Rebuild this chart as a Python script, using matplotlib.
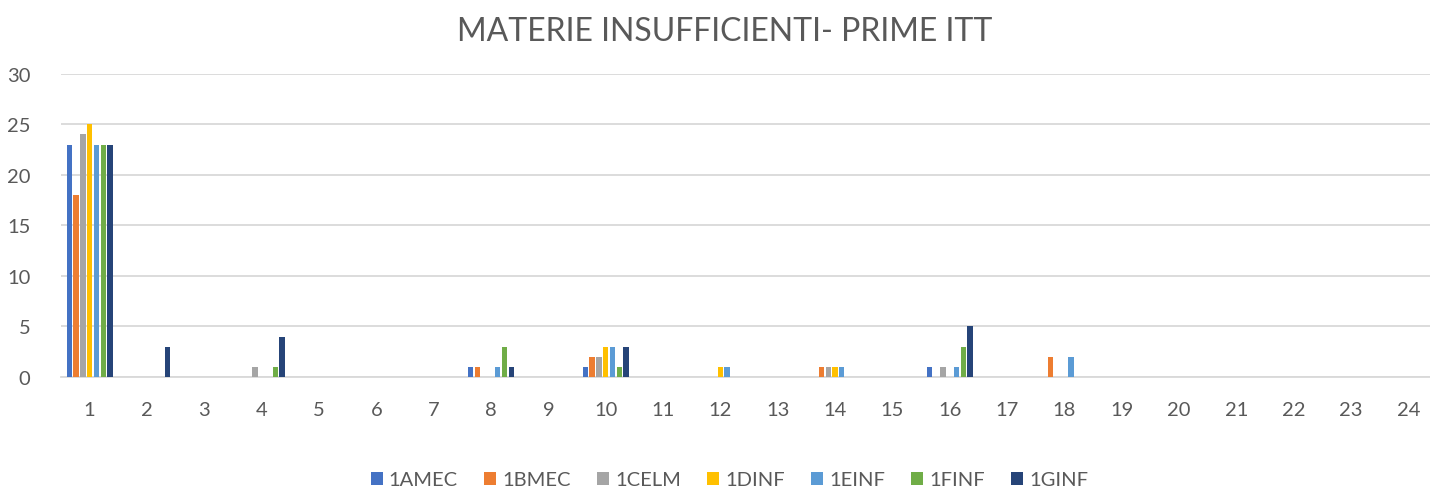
import numpy as np
import matplotlib
matplotlib.use('Agg')
import matplotlib.pyplot as plt

plt.rcParams['font.family'] = ['Lato', 'DejaVu Sans']

categories = [str(i) for i in range(1, 25)]
series_names = ['1AMEC', '1BMEC', '1CELM', '1DINF', '1EINF', '1FINF', '1GINF']
colors = ['#4472C4', '#ED7D31', '#A5A5A5', '#FFC000', '#5B9BD5', '#70AD47', '#264478']

# values per class, one entry per category (1..24)
v_1amec = [23, 0, 0, 0, 0, 0, 0, 1, 0, 1, 0, 0, 0, 0, 0, 1, 0, 0, 0, 0, 0, 0, 0, 0]
v_1bmec = [18, 0, 0, 0, 0, 0, 0, 1, 0, 2, 0, 0, 0, 1, 0, 0, 0, 2, 0, 0, 0, 0, 0, 0]
v_1celm = [24, 0, 0, 1, 0, 0, 0, 0, 0, 2, 0, 0, 0, 1, 0, 1, 0, 0, 0, 0, 0, 0, 0, 0]
v_1dinf = [25, 0, 0, 0, 0, 0, 0, 0, 0, 3, 0, 1, 0, 1, 0, 0, 0, 0, 0, 0, 0, 0, 0, 0]
v_1einf = [23, 0, 0, 0, 0, 0, 0, 1, 0, 3, 0, 1, 0, 1, 0, 1, 0, 2, 0, 0, 0, 0, 0, 0]
v_1finf = [23, 0, 0, 1, 0, 0, 0, 3, 0, 1, 0, 0, 0, 0, 0, 3, 0, 0, 0, 0, 0, 0, 0, 0]
v_1ginf = [23, 3, 0, 4, 0, 0, 0, 1, 0, 3, 0, 0, 0, 0, 0, 5, 0, 0, 0, 0, 0, 0, 0, 0]
series = [v_1amec, v_1bmec, v_1celm, v_1dinf, v_1einf, v_1finf, v_1ginf]

fig = plt.figure(figsize=(14.3, 4.89), dpi=100)
ax = fig.add_axes([61 / 1430, 0.227, 1376 / 1430, 0.62])

x = np.arange(1, len(categories) + 1)
step = 0.118
width = 0.094
for i, (name, vals, c) in enumerate(zip(series_names, series, colors)):
    ax.bar(x + (i - 3) * step, vals, width, color=c, label=name, zorder=3)

ax.set_xlim(0.5, 24.5)
ax.set_ylim(0, 30)
ax.set_yticks(range(0, 31, 5))
ax.set_xticks(x)
ax.set_xticklabels(categories)
ax.grid(axis='y', color='#D9D9D9', linewidth=1.3, zorder=0)
for s in ['top', 'right', 'left']:
    ax.spines[s].set_visible(False)
ax.spines['bottom'].set_color('#D9D9D9')
ax.spines['bottom'].set_linewidth(1.3)
ax.tick_params(axis='both', length=0, labelsize=14.5, labelcolor='#595959', pad=17)
ax.tick_params(axis='y', pad=22)

fig.suptitle('MATERIE INSUFFICIENTI- PRIME ITT', x=0.507, y=0.965, fontsize=23, color='#595959')
fig.legend(loc='lower center', bbox_to_anchor=(0.51, -0.038), ncol=7, frameon=False,
           fontsize=14.5, labelcolor='#595959', handlelength=0.6, handleheight=0.6,
           handletextpad=0.3, columnspacing=1.3)

fig.savefig('out.png', dpi=100)
